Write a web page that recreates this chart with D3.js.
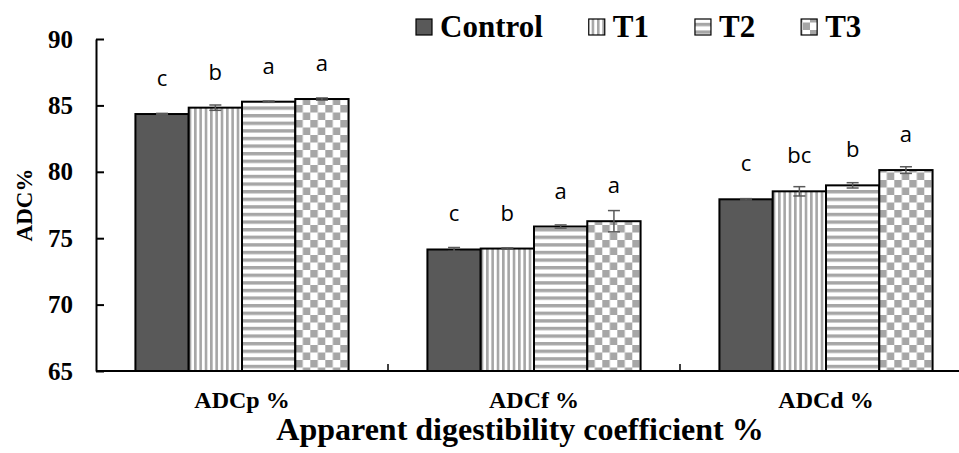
<!DOCTYPE html>
<html>
<head>
<meta charset="utf-8">
<script src="https://cdn.jsdelivr.net/npm/d3@7"></script>
<style>
  body { margin: 0; background: #fff; }
  svg { display: block; }
</style>
</head>
<body>
<script>
// categories and series
var categories = ["ADCp %", "ADCf %", "ADCd %"];
var seriesNames = ["Control", "T1", "T2", "T3"];

// mean values per series (one value per category)
var control = [84.35, 74.15, 77.93];
var t1 = [84.83, 74.22, 78.53];
var t2 = [85.28, 75.88, 78.98];
var t3 = [85.48, 76.28, 80.13];

// standard error per series
var controlErr = [0.05, 0.15, 0.05];
var t1Err = [0.2, 0.05, 0.35];
var t2Err = [0.05, 0.12, 0.2];
var t3Err = [0.08, 0.8, 0.25];

// significance letters per category (Control, T1, T2, T3)
var letters = [
    ["c", "b", "a", "a"],
    ["c", "b", "a", "a"],
    ["c", "bc", "b", "a"]
];

var yTicks = [65, 70, 75, 80, 85, 90];

var values = [control, t1, t2, t3];
var errors = [controlErr, t1Err, t2Err, t3Err];

var width = 959, height = 453;
var serif = "'Liberation Serif', 'Times New Roman', serif";
var sans = "'Open Sans', 'Liberation Sans', sans-serif";

var svg = d3.select("body").append("svg")
    .attr("width", width)
    .attr("height", height);

//patterns
var defs = svg.append("defs");

var pv = defs.append("pattern").attr("id", "pat-t1")
    .attr("patternUnits", "userSpaceOnUse")
    .attr("width", 5.33).attr("height", 10);
pv.append("rect").attr("width", 5.33).attr("height", 10).attr("fill", "#fff");
pv.append("rect").attr("x", 0).attr("width", 2.6).attr("height", 10).attr("fill", "#a6a6a6");

var ph = defs.append("pattern").attr("id", "pat-t2")
    .attr("patternUnits", "userSpaceOnUse")
    .attr("width", 10).attr("height", 7.6);
ph.append("rect").attr("width", 10).attr("height", 7.6).attr("fill", "#fff");
ph.append("rect").attr("y", 0).attr("width", 10).attr("height", 3.4).attr("fill", "#a6a6a6");

var pc = defs.append("pattern").attr("id", "pat-t3")
    .attr("patternUnits", "userSpaceOnUse")
    .attr("width", 15).attr("height", 15);
pc.append("rect").attr("width", 15).attr("height", 15).attr("fill", "#fff");
pc.append("rect").attr("width", 7.5).attr("height", 7.5).attr("fill", "#a6a6a6");
pc.append("rect").attr("x", 7.5).attr("y", 7.5).attr("width", 7.5).attr("height", 7.5).attr("fill", "#a6a6a6");

var fills = ["#595959", "url(#pat-t1)", "url(#pat-t2)", "url(#pat-t3)"];

// scales
var x0 = d3.scaleBand()
    .domain(categories)
    .range([96, 972])
    .paddingInner(0.27)
    .paddingOuter(0.135);

var x1 = d3.scaleBand()
    .domain(seriesNames)
    .range([0, x0.bandwidth()]);

var y = d3.scaleLinear()
    .domain([65, 90])
    .range([371, 39]);

// bars
var data = [];
categories.forEach(function (c, ci) {
    seriesNames.forEach(function (s, si) {
        data.push({
            cat: c, series: s, si: si,
            value: values[si][ci],
            err: errors[si][ci],
            letter: letters[ci][si]
        });
    });
});

var groups = svg.append("g").selectAll("g")
    .data(data)
    .enter().append("g")
    .attr("transform", function (d) {
        return "translate(" + (x0(d.cat) + x1(d.series)) + ",0)";
    });

groups.append("rect")
    .attr("x", 0)
    .attr("y", function (d) { return y(d.value); })
    .attr("width", x1.bandwidth())
    .attr("height", function (d) { return y(65) - y(d.value); })
    .attr("fill", function (d) { return fills[d.si]; })
    .attr("stroke", "#000")
    .attr("stroke-width", 2);

// error bars
var cx = x1.bandwidth() / 2;
groups.append("line")
    .attr("x1", cx).attr("x2", cx)
    .attr("y1", function (d) { return y(d.value + d.err); })
    .attr("y2", function (d) { return y(d.value - d.err); })
    .attr("stroke", "#595959").attr("stroke-width", 1.5);
groups.append("line")
    .attr("x1", cx - 6).attr("x2", cx + 6)
    .attr("y1", function (d) { return y(d.value + d.err); })
    .attr("y2", function (d) { return y(d.value + d.err); })
    .attr("stroke", "#595959").attr("stroke-width", 1.5);
groups.append("line")
    .attr("x1", cx - 6).attr("x2", cx + 6)
    .attr("y1", function (d) { return y(d.value - d.err); })
    .attr("y2", function (d) { return y(d.value - d.err); })
    .attr("stroke", "#595959").attr("stroke-width", 1.5);

// significance letters, above the bar top
groups.append("text")
    .attr("x", cx)
    .attr("y", function (d) { return y(d.value) - 28; })
    .attr("text-anchor", "middle")
    .style("font-family", sans)
    .style("font-size", "22px")
    .attr("fill", "#000")
    .text(function (d) { return d.letter; });

// y axis
var yAxis = svg.append("g")
    .attr("transform", "translate(96,0)")
    .call(d3.axisLeft(y).tickValues(yTicks).tickSizeInner(-8).tickSizeOuter(0).tickPadding(23));
yAxis.select(".domain").attr("stroke", "#000").attr("stroke-width", 2);
yAxis.selectAll(".tick line").attr("stroke", "#000").attr("stroke-width", 2);
yAxis.selectAll(".tick text")
    .style("font-family", serif)
    .style("font-size", "25px")
    .style("font-weight", "bold")
    .attr("fill", "#000");

// x axis line and category separators
svg.append("line")
    .attr("x1", 96).attr("x2", 972)
    .attr("y1", y(65)).attr("y2", y(65))
    .attr("stroke", "#000").attr("stroke-width", 2);

var step = x0.step();
svg.append("g").selectAll("line")
    .data(categories.slice(1))
    .enter().append("line")
    .attr("x1", function (d) { return x0(d) - x0.paddingInner() * step / 2; })
    .attr("x2", function (d) { return x0(d) - x0.paddingInner() * step / 2; })
    .attr("y1", y(65)).attr("y2", y(65) - 7)
    .attr("stroke", "#000").attr("stroke-width", 1.5);

svg.append("g").selectAll("text")
    .data(categories)
    .enter().append("text")
    .attr("x", function (d) { return x0(d) + x0.bandwidth() / 2; })
    .attr("y", 408)
    .attr("text-anchor", "middle")
    .style("font-family", serif)
    .style("font-size", "24px")
    .style("font-weight", "bold")
    .text(function (d) { return d; });

// axis titles
svg.append("text")
    .attr("x", 520)
    .attr("y", 440)
    .attr("text-anchor", "middle")
    .style("font-family", serif)
    .style("font-size", "32px")
    .style("font-weight", "bold")
    .text("Apparent digestibility coefficient %");

svg.append("text")
    .attr("transform", "translate(32," + ((y(65) + y(90)) / 2) + ") rotate(-90)")
    .attr("text-anchor", "middle")
    .style("font-family", serif)
    .style("font-size", "23px")
    .style("font-weight", "bold")
    .text("ADC%");

// legend
var legend = svg.append("g");
var lx = 416;
seriesNames.forEach(function (s, i) {
    legend.append("rect")
        .attr("x", lx).attr("y", 19)
        .attr("width", 16).attr("height", 16)
        .attr("fill", fills[i])
        .attr("stroke", "#000").attr("stroke-width", 1.2);
    var t = legend.append("text")
        .attr("x", lx + 24).attr("y", 37)
        .style("font-family", serif)
        .style("font-size", "31px")
        .style("font-weight", "bold")
        .text(s);
    lx += 24 + t.node().getComputedTextLength() + 46;
});
</script>
</body>
</html>
